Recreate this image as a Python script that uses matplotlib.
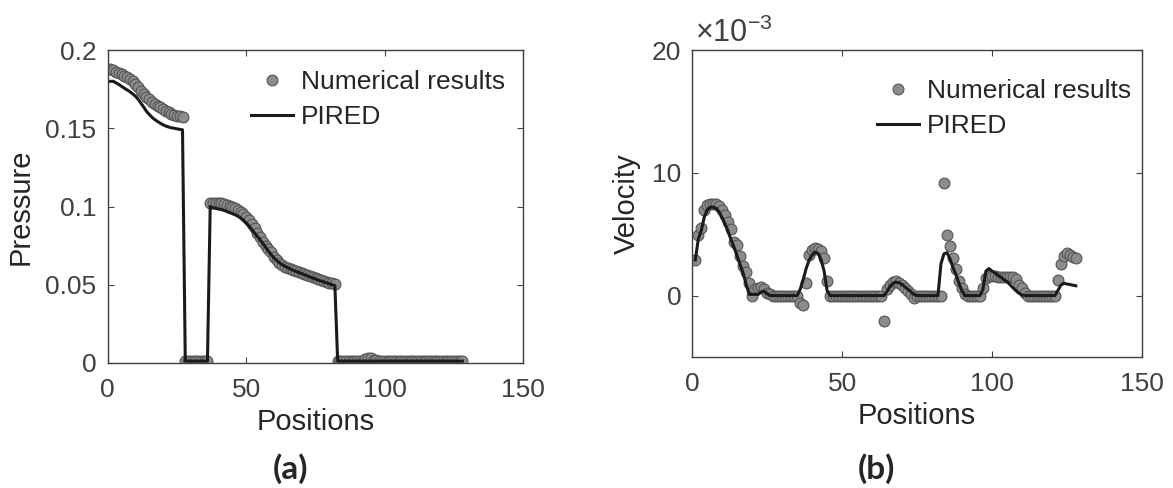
import numpy as np
import matplotlib
matplotlib.use("Agg")
import matplotlib.pyplot as plt
from matplotlib.ticker import FuncFormatter

plt.rcParams['font.family'] = ['Liberation Sans', 'DejaVu Sans']
plt.rcParams['mathtext.fontset'] = 'custom'
plt.rcParams['mathtext.rm'] = 'Liberation Sans'
plt.rcParams['mathtext.it'] = 'Liberation Sans'

# ---- data ----
positions = np.arange(1, 129)

# pressure, numerical results
p_seg1 = [0.1877, 0.1870, 0.1862, 0.1853, 0.1845, 0.1836, 0.1828, 0.1815, 0.1800,
          0.1782, 0.1762, 0.1740, 0.1720, 0.1702, 0.1685, 0.1670, 0.1656, 0.1645,
          0.1634, 0.1624, 0.1612, 0.1602, 0.1594, 0.1587, 0.1580, 0.1576, 0.1572]
p_gap = [0.0012] * 9
p_seg2 = [0.1025, 0.1025, 0.1024, 0.1022, 0.1020, 0.1017, 0.1012, 0.1006, 0.0999,
          0.0990, 0.0978, 0.0965, 0.0950, 0.0932, 0.0912, 0.0888, 0.0862, 0.0832,
          0.0802, 0.0775, 0.0750, 0.0730, 0.0710, 0.0680, 0.0655, 0.0638, 0.0626,
          0.0616, 0.0608, 0.0601, 0.0595, 0.0588, 0.0581, 0.0575, 0.0568, 0.0561,
          0.0554, 0.0547, 0.0541, 0.0534, 0.0528, 0.0522, 0.0517, 0.0512, 0.0508,
          0.0504]
p_tail = [0.0012] * 10 + [0.0025, 0.0035, 0.0030, 0.0022, 0.0018] + [0.0013] * 31
pressure_num = np.array(p_seg1 + p_gap + p_seg2 + p_tail)

# pressure, PIRED
q_seg1 = [0.1800, 0.1800, 0.1790, 0.1780, 0.1768, 0.1756, 0.1745, 0.1734, 0.1720,
          0.1705, 0.1685, 0.1660, 0.1635, 0.1608, 0.1588, 0.1570, 0.1555, 0.1543,
          0.1532, 0.1522, 0.1514, 0.1508, 0.1503, 0.1500, 0.1496, 0.1493, 0.1490]
q_seg2 = [0.1000, 0.0992, 0.0988, 0.0984, 0.0980, 0.0975, 0.0968, 0.0961, 0.0954,
          0.0947, 0.0938, 0.0926, 0.0912, 0.0895, 0.0875, 0.0853, 0.0830, 0.0808,
          0.0788, 0.0765, 0.0740, 0.0715, 0.0692, 0.0672, 0.0655, 0.0640, 0.0628,
          0.0618, 0.0609, 0.0600, 0.0592, 0.0585, 0.0578, 0.0571, 0.0564, 0.0557,
          0.0550, 0.0543, 0.0537, 0.0530, 0.0524, 0.0518, 0.0512, 0.0506, 0.0500,
          0.0494]
pressure_pired = np.array(q_seg1 + [0.0012] * 9 + q_seg2 + [0.0012] * 46)

# velocity (x 1e-3), numerical results
velocity_num = np.array([
    2.9, 4.9, 5.5, 7.0, 7.35, 7.5, 7.5, 7.45, 7.3, 7.0,
    6.6, 6.0, 5.4, 4.4, 4.1, 3.2, 2.4, 1.9, 1.0, 0.0,
    0.5, 0.6, 0.7, 0.5, 0.25, 0.1, 0, 0, 0, 0,
    0, 0, 0, 0, 0, -0.6, -0.8, 1.0, 3.3, 3.7,
    3.85, 3.8, 3.6, 3.1, 1.15, 0, 0, 0, 0, 0,
    0, 0, 0, 0, 0, 0, 0, 0, 0, 0,
    0, 0, 0, -2.05, 0.5, 0.9, 1.1, 1.15, 1.05, 0.85,
    0.6, 0.35, 0.15, -0.2, 0, 0, 0, 0, 0, 0,
    0, 0, 0, 9.2, 4.9, 4.0, 3.1, 2.2, 1.2, 0.6,
    0.1, 0, 0, 0, 0, 0, 0.6, 1.4, 1.6, 1.6,
    1.6, 1.55, 1.55, 1.55, 1.5, 1.5, 1.55, 1.35, 0.9, 0.6,
    0.2, 0, 0, 0, 0, 0, 0, 0, 0, 0,
    0, 1.3, 2.6, 3.2, 3.5, 3.3, 3.15, 3.1]) * 1e-3

# velocity (x 1e-3), PIRED
velocity_pired = np.array([
    2.9, 4.6, 5.3, 6.4, 7.0, 7.2, 7.2, 7.1, 6.8, 6.3,
    5.8, 5.2, 4.5, 3.9, 3.2, 2.5, 1.8, 0.9, 0.1, 0.1,
    0.1, 0.1, 0.3, 0.35, 0.15, 0, 0, 0, 0, 0,
    0, 0, 0, 0, 0, 0.5, 1.3, 2.2, 2.9, 3.3,
    3.55, 3.45, 2.9, 2.0, 0.4, 0, 0, 0, 0, 0,
    0, 0, 0, 0, 0, 0, 0, 0, 0, 0,
    0, 0, 0, 0, 0.35, 0.75, 1.0, 1.1, 1.05, 0.9,
    0.7, 0.5, 0.3, 0.1, 0, 0, 0, 0, 0, 0,
    0, 0, 2.6, 3.4, 3.5, 3.0, 2.3, 1.7, 1.0, 0.4,
    0, 0, 0, 0, 0, 0, 0.5, 2.0, 2.2, 2.0,
    1.85, 1.65, 1.5, 1.3, 1.15, 0.9, 0.65, 0.4, 0.2, 0.05,
    0, 0, 0, 0, 0, 0, 0, 0, 0, 0,
    0, 0.4, 0.85, 1.0, 0.95, 0.9, 0.85, 0.8]) * 1e-3

x_ticks = [0, 50, 100, 150]
p_ticks = [0, 0.05, 0.1, 0.15, 0.2]
v_ticks = [0, 0.01, 0.02]

# ---- styling ----
W, H = 1173, 488
fig = plt.figure(figsize=(W / 100, H / 100), dpi=100)

tick_col = '#404040'
label_col = '#262626'
fs = 19

def style(ax):
    for s in ax.spines.values():
        s.set_color(tick_col)
        s.set_linewidth(1.0)
    ax.tick_params(direction='in', top=True, right=True, length=4, width=0.8,
                   colors=tick_col, labelsize=fs, pad=8)
    ax.tick_params(axis='x', pad=11)

def draw(ax, y_num, y_line):
    ax.plot(positions, y_num, 'o', ms=7.8, mfc='#8c8c8c', mec='#555555', mew=0.8,
            label='Numerical results')
    ax.plot(positions, y_line, '-', color='#1a1a1a', lw=2.2, label='PIRED')

leg_kw = dict(loc='upper right', bbox_transform=fig.transFigure, frameon=False,
              fontsize=fs, handlelength=1.6, handletextpad=0.3, labelspacing=0.43,
              borderpad=0, borderaxespad=0, labelcolor=label_col, numpoints=1)

# left panel
ax1 = fig.add_axes([107.7 / W, 1 - 363 / H, 415.6 / W, 313 / H])
draw(ax1, pressure_num, pressure_pired)
ax1.set_xlim(0, 150)
ax1.set_ylim(0, 0.2)
ax1.set_xticks(x_ticks)
ax1.set_yticks(p_ticks)
ax1.yaxis.set_major_formatter(FuncFormatter(lambda v, p: '%g' % v))
style(ax1)
ax1.set_xlabel('Positions', fontsize=21, color=label_col, labelpad=4)
ax1.set_ylabel('Pressure', fontsize=21, color=label_col, labelpad=8)
ax1.legend(bbox_to_anchor=(505 / W, 1 - 70 / H), **leg_kw)

# right panel
ax2 = fig.add_axes([692.3 / W, 1 - 357 / H, 449.4 / W, 307 / H])
draw(ax2, velocity_num, velocity_pired)
ax2.set_xlim(0, 150)
ax2.set_ylim(-0.005, 0.02)
ax2.set_xticks(x_ticks)
ax2.set_yticks(v_ticks)
ax2.yaxis.set_major_formatter(FuncFormatter(lambda v, p: '%g' % round(v * 1e3, 6)))
style(ax2)
ax2.set_xlabel('Positions', fontsize=21, color=label_col, labelpad=4)
ax2.set_ylabel('Velocity', fontsize=21, color=label_col, labelpad=8)
fig.text(695 / W, 1 - 42 / H, r'$\times10^{-3}$', fontsize=22,
         color=tick_col, ha='left', va='baseline')
ax2.legend(bbox_to_anchor=(1131 / W, 1 - 79 / H), **leg_kw)

fig.text(291 / W, 1 - 469 / H, '(a)', fontsize=24, fontweight='bold',
         family=['Lato', 'DejaVu Sans'], color=label_col, ha='center', va='center')
fig.text(876 / W, 1 - 469 / H, '(b)', fontsize=24, fontweight='bold',
         family=['Lato', 'DejaVu Sans'], color=label_col, ha='center', va='center')

fig.savefig('out.png', dpi=100)
